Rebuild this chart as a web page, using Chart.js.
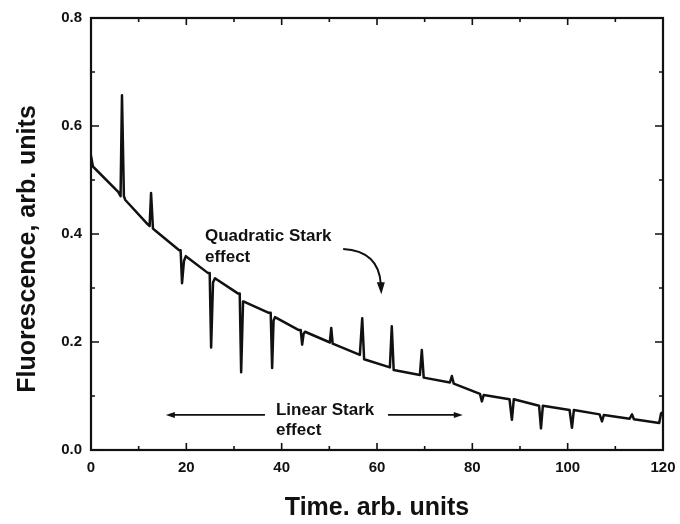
<!DOCTYPE html>
<html>
<head>
<meta charset="utf-8">
<script src="https://cdn.jsdelivr.net/npm/chart.js@4.4.1/dist/chart.umd.min.js"></script>
<style>
  html, body { margin: 0; padding: 0; background: #fff; }
  #wrap { width: 680px; height: 524px; }
</style>
</head>
<body>
<div id="wrap"><canvas id="chart" width="680" height="524"></canvas></div>
<script>
// data
const time = [
  0, 0.4, 5.7, 6.2, 6.5, 6.9, 7.2, 12.0, 12.3, 12.6, 13.0, 13.4,
  18.5, 18.8, 19.1, 19.5, 19.9, 24.5, 24.9, 25.2, 25.6, 26.0,
  30.8, 31.2, 31.5, 31.9, 32.3, 37.3, 37.7, 38.0, 38.3, 38.6,
  43.6, 44.0, 44.3, 44.6, 44.9, 49.9, 50.1, 50.4, 50.7,
  56.4, 56.9, 57.3, 62.7, 63.1, 63.5, 69.0, 69.4, 69.8,
  75.3, 75.7, 76.1, 81.6, 82.0, 82.4, 87.8, 88.3, 88.7,
  94.0, 94.4, 94.8, 100.4, 100.9, 101.3, 106.7, 107.2, 107.6,
  113.0, 113.5, 113.9, 119.2, 119.6, 120
];
const fluorescence = [
  0.545, 0.525, 0.478, 0.47, 0.657, 0.47, 0.463, 0.417, 0.415, 0.476, 0.41, 0.407,
  0.37, 0.37, 0.309, 0.35, 0.359, 0.328, 0.328, 0.19, 0.31, 0.318,
  0.29, 0.29, 0.144, 0.275, 0.274, 0.254, 0.254, 0.152, 0.24, 0.246,
  0.222, 0.222, 0.195, 0.215, 0.219, 0.2, 0.199, 0.226, 0.197,
  0.176, 0.244, 0.168, 0.153, 0.229, 0.148, 0.139, 0.185, 0.134,
  0.125, 0.137, 0.123, 0.104, 0.09, 0.102, 0.094, 0.056, 0.094,
  0.082, 0.04, 0.082, 0.074, 0.041, 0.074, 0.066, 0.053, 0.065,
  0.058, 0.066, 0.057, 0.05, 0.068, 0.07
];
const xTicks = [0, 20, 40, 60, 80, 100, 120];
const yTicks = [0.0, 0.2, 0.4, 0.6, 0.8];

const ink = '#111';
const fontFam = '"Liberation Sans", Arial, sans-serif';

// frame, inward ticks, axis titles and the two notes
const extras = {
  id: 'extras',
  afterDraw(chart) {
    const c = chart.ctx;
    const xs = chart.scales.x, ys = chart.scales.y;
    const L = xs.left, R = xs.right, T = ys.top, B = ys.bottom;
    c.save();
    c.strokeStyle = ink;
    c.fillStyle = ink;
    c.lineWidth = 2.2;
    c.strokeRect(L, T, R - L, B - T);

    c.lineWidth = 1.6;
    for (let v = xs.min; v <= xs.max; v += 10) {
      const px = xs.getPixelForValue(v);
      const len = v % 20 === 0 ? 7 : 4;
      c.beginPath();
      c.moveTo(px, B); c.lineTo(px, B - len);
      c.moveTo(px, T); c.lineTo(px, T + len);
      c.stroke();
    }
    for (let i = 0; i <= 8; i++) {
      const v = i / 10;
      const py = ys.getPixelForValue(v);
      const len = i % 2 === 0 ? 8 : 4;
      c.beginPath();
      c.moveTo(L, py); c.lineTo(L + len, py);
      c.moveTo(R, py); c.lineTo(R - len, py);
      c.stroke();
    }

    // axis titles
    c.font = 'bold 25px ' + fontFam;
    c.textAlign = 'center';
    c.textBaseline = 'middle';
    c.fillText('Time. arb. units', (L + R) / 2, 508);
    c.save();
    c.translate(28, 249);
    c.rotate(-Math.PI / 2);
    c.fillText('Fluorescence, arb. units', 0, 0);
    c.restore();

    // notes
    const P = (x, y) => [xs.getPixelForValue(x), ys.getPixelForValue(y)];
    c.font = 'bold 17px ' + fontFam;
    c.textAlign = 'left';
    let [qx, qy] = P(23.9, 0.395);
    c.fillText('Quadratic Stark', qx, qy);
    c.fillText('effect', qx, qy + 21);

    // curved arrow
    const [ax0, ay0] = P(52.9, 0.372);
    const [ax1, ay1] = P(60.8, 0.292);
    c.lineWidth = 2;
    c.beginPath();
    c.moveTo(ax0, ay0);
    c.quadraticCurveTo(ax1 - 2, ay0 + 2, ax1, ay1 - 8);
    c.stroke();
    c.beginPath();
    c.moveTo(ax1 - 4, ay1 - 10);
    c.lineTo(ax1 + 4, ay1 - 10);
    c.lineTo(ax1 + 0.5, ay1 + 2);
    c.closePath();
    c.fill();

    // linear stark
    let [lx, ly] = P(38.8, 0.074);
    c.fillText('Linear Stark', lx, ly);
    c.fillText('effect', lx, ly + 20);
    const [l0] = P(15.7, 0);
    const [l1] = P(36.5, 0);
    const [r0] = P(62.3, 0);
    const [r1] = P(78.0, 0);
    const [, ay] = P(0, 0.065);
    c.lineWidth = 1.8;
    c.beginPath();
    c.moveTo(l0 + 6, ay); c.lineTo(l1, ay);
    c.moveTo(r0, ay); c.lineTo(r1 - 6, ay);
    c.stroke();
    c.beginPath();
    c.moveTo(l0, ay); c.lineTo(l0 + 9, ay - 3); c.lineTo(l0 + 9, ay + 3); c.closePath();
    c.moveTo(r1, ay); c.lineTo(r1 - 9, ay - 3); c.lineTo(r1 - 9, ay + 3); c.closePath();
    c.fill();
    c.restore();
  }
};

const ctx = document.getElementById('chart').getContext('2d');
const chart = new Chart(ctx, {
  type: 'scatter',
  data: {
    datasets: [{
      data: time.map((t, i) => ({ x: t, y: fluorescence[i] })),
      showLine: true,
      borderColor: ink,
      borderWidth: 2.5,
      borderJoinStyle: 'round',
      pointRadius: 0,
      tension: 0
    }]
  },
  options: {
    responsive: false,
    animation: false,
    layout: { padding: { top: 18, right: 17, left: 0, bottom: 0 } },
    plugins: { legend: { display: false }, tooltip: { enabled: false } },
    scales: {
      x: {
        type: 'linear',
        min: 0, max: 120,
        afterBuildTicks: s => { s.ticks = xTicks.map(v => ({ value: v })); },
        afterFit: s => { s.height = 74; s.paddingLeft = 0; s.paddingRight = 0; },
        grid: { display: false, drawTicks: false },
        border: { display: false },
        ticks: {
          color: ink, padding: 9,
          font: { family: fontFam, size: 15, weight: 'bold' },
          maxRotation: 0
        }
      },
      y: {
        min: 0, max: 0.8,
        afterBuildTicks: s => { s.ticks = yTicks.map(v => ({ value: v })); },
        afterFit: s => { s.width = 91; s.paddingTop = 0; s.paddingBottom = 0; },
        grid: { display: false, drawTicks: false },
        border: { display: false },
        ticks: {
          color: ink, padding: 9,
          font: { family: fontFam, size: 15, weight: 'bold' },
          callback: v => v.toFixed(1)
        }
      }
    }
  },
  plugins: [extras]
});
</script>
</body>
</html>
